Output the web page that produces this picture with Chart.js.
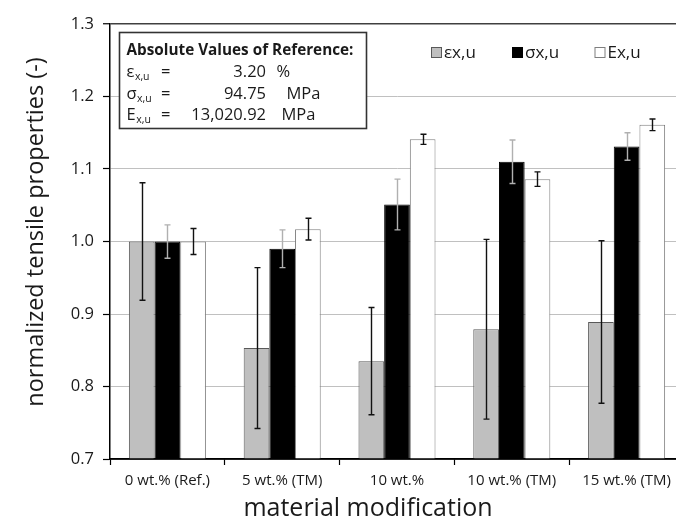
<!DOCTYPE html>
<html>
<head>
<meta charset="utf-8">
<script src="https://cdn.jsdelivr.net/npm/chart.js@4/dist/chart.umd.min.js"></script>
<style>
  html, body { margin: 0; padding: 0; background: #fff; overflow: hidden; }
  #wrap { position: relative; width: 700px; height: 523px; }
</style>
</head>
<body>
<div id="wrap"><canvas id="c" width="700" height="523"></canvas></div>
<script>
// ---- data ----
const categories = ['0 wt.% (Ref.)', '5 wt.% (TM)', '10 wt.%', '10 wt.% (TM)', '15 wt.% (TM)'];
const seriesLabels = ['εx,u', 'σx,u', 'Ex,u'];
const strain      = [1.000, 0.853, 0.835, 0.879, 0.889];
const strainErr   = [0.081, 0.111, 0.074, 0.124, 0.112];
const strength    = [1.000, 0.990, 1.051, 1.110, 1.131];
const strengthErr = [0.023, 0.026, 0.035, 0.030, 0.019];
const modulus     = [1.000, 1.017, 1.141, 1.086, 1.161];
const modulusErr  = [0.018, 0.015, 0.007, 0.010, 0.008];
const yTicks = [0.7, 0.8, 0.9, 1.0, 1.1, 1.2, 1.3];
const boxTitle = 'Absolute Values of Reference:';
const refSymbols = ['ε', 'σ', 'E'];
const refSub = 'x,u';
const refValues = ['3.20', '94.75', '13,020.92'];
const refUnits = ['%', 'MPa', 'MPa'];
const xTitle = 'material modification';
const yTitle = 'normalized tensile properties (-)';

const FONT = '"Open Sans", "DejaVu Sans", sans-serif';
const TEXT = '#1a1a1a';

const errors = [strainErr, strengthErr, modulusErr];
const errColors = ['#111111', '#b0b0b0', '#111111'];

const decor = {
  id: 'decor',
  afterDatasetsDraw(chart) {
    const ctx = chart.ctx;
    const ys = chart.scales.y;
    const area = chart.chartArea;
    chart.data.datasets.forEach((ds, di) => {
      const meta = chart.getDatasetMeta(di);
      meta.data.forEach((bar, i) => {
        const v = ds.data[i], e = errors[di][i];
        const yt = ys.getPixelForValue(v + e);
        const yb = ys.getPixelForValue(v - e);
        const x = Math.round(bar.x) + 0.5;
        ctx.save();
        ctx.strokeStyle = errColors[di];
        ctx.lineWidth = 1.4;
        ctx.beginPath();
        ctx.moveTo(x, yt); ctx.lineTo(x, yb);
        ctx.moveTo(x - 3, yt); ctx.lineTo(x + 3, yt);
        ctx.moveTo(x - 3, yb); ctx.lineTo(x + 3, yb);
        ctx.stroke();
        ctx.restore();
      });
    });
    // x axis line drawn over the bar bottoms, as in the reference
    ctx.save();
    ctx.strokeStyle = '#000';
    ctx.lineWidth = 1.5;
    ctx.beginPath();
    ctx.moveTo(area.left, area.bottom);
    ctx.lineTo(area.right, area.bottom);
    ctx.stroke();
    ctx.restore();
  },
  afterDraw(chart) {
    const ctx = chart.ctx;
    ctx.save();
    // axis titles
    ctx.fillStyle = TEXT;
    ctx.font = '25px ' + FONT;
    ctx.textAlign = 'center';
    ctx.textBaseline = 'alphabetic';
    ctx.fillText(xTitle, 368, 516);
    ctx.save();
    ctx.translate(43, 232);
    ctx.rotate(-Math.PI / 2);
    ctx.font = '23.5px ' + FONT;
    ctx.fillText(yTitle, 0, 0);
    ctx.restore();

    // info box
    ctx.fillStyle = '#ffffff';
    ctx.fillRect(119.5, 32.5, 247, 96);
    ctx.strokeStyle = '#333333';
    ctx.lineWidth = 1.6;
    ctx.strokeRect(119.5, 32.5, 247, 96);
    ctx.fillStyle = TEXT;
    ctx.textAlign = 'left';
    ctx.font = 'bold 15.3px ' + FONT;
    ctx.fillText(boxTitle, 126.5, 54.5);
    const baselines = [76.8, 98.5, 120.2];
    const unitX = [276.5, 286.5, 281.5];
    refSymbols.forEach((s, i) => {
      const b = baselines[i];
      ctx.textAlign = 'left';
      ctx.font = '16.5px ' + FONT;
      ctx.fillText(s, 126.5, b);
      const w = ctx.measureText(s).width;
      ctx.font = '10.5px ' + FONT;
      ctx.fillText(refSub, 126.5 + w + 0.5, b + 3);
      ctx.font = '16.5px ' + FONT;
      ctx.fillText('=', 161, b);
      ctx.textAlign = 'right';
      ctx.fillText(refValues[i], 266, b);
      ctx.textAlign = 'left';
      ctx.fillText(refUnits[i], unitX[i], b);
    });

    // legend
    const lx = [431.5, 512.5, 595];
    chart.data.datasets.forEach((ds, i) => {
      ctx.fillStyle = ds.backgroundColor;
      ctx.fillRect(lx[i], 47.5, 10, 10);
      ctx.strokeStyle = ds.borderColor;
      ctx.lineWidth = 1;
      ctx.strokeRect(lx[i], 47.5, 10, 10);
      ctx.fillStyle = TEXT;
      ctx.font = '17px ' + FONT;
      ctx.textAlign = 'left';
      ctx.fillText(ds.label, lx[i] + 12.5, 58.3);
    });
    ctx.restore();
  }
};

function build() {
  new Chart(document.getElementById('c'), {
    type: 'bar',
    data: {
      labels: categories,
      datasets: [
        { label: seriesLabels[0], data: strain, backgroundColor: '#bfbfbf', borderColor: '#595959', borderWidth: 1 },
        { label: seriesLabels[1], data: strength, backgroundColor: '#000000', borderColor: '#000000', borderWidth: 1 },
        { label: seriesLabels[2], data: modulus, backgroundColor: '#ffffff', borderColor: '#7f7f7f', borderWidth: 1 }
      ]
    },
    options: {
      responsive: false,
      animation: false,
      events: [],
      layout: { padding: { left: 0, right: 16, top: 24, bottom: 0 } },
      datasets: { bar: { categoryPercentage: 0.671, barPercentage: 1.0 } },
      plugins: { legend: { display: false }, tooltip: { enabled: false } },
      scales: {
        x: {
          afterFit(s) { s.height = 64; },
          grid: { display: true, drawOnChartArea: false, offset: true, tickLength: 6, tickColor: '#000', tickWidth: 1.2 },
          border: { color: '#000', width: 1.5 },
          ticks: { color: TEXT, font: { family: FONT, size: 15 }, padding: 7, maxRotation: 0, autoSkip: false }
        },
        y: {
          min: yTicks[0],
          max: yTicks[yTicks.length - 1],
          afterFit(s) { s.width = 110; },
          afterBuildTicks(s) { s.ticks = yTicks.map(v => ({ value: v })); },
          grid: {
            color: (c) => {
              const v = c.tick ? c.tick.value : 0;
              if (Math.abs(v - 1.3) < 1e-6) return '#404040';
              if (Math.abs(v - 0.7) < 1e-6) return 'rgba(0,0,0,0)';
              return '#c0c0c0';
            },
            lineWidth: (c) => (c.tick && Math.abs(c.tick.value - 1.3) < 1e-6) ? 1.5 : 1,
            tickLength: 7, tickColor: '#000', tickWidth: 1.2
          },
          border: { color: '#000', width: 1.5 },
          ticks: { color: TEXT, font: { family: FONT, size: 16.5 }, padding: 9, callback: (v) => Number(v).toFixed(1) }
        }
      }
    },
    plugins: [decor]
  });
}

const fontLoads = [
  document.fonts.load('16px "Open Sans"'),
  document.fonts.load('bold 15px "Open Sans"')
];
Promise.all(fontLoads).then(build, build);
</script>
</body>
</html>
